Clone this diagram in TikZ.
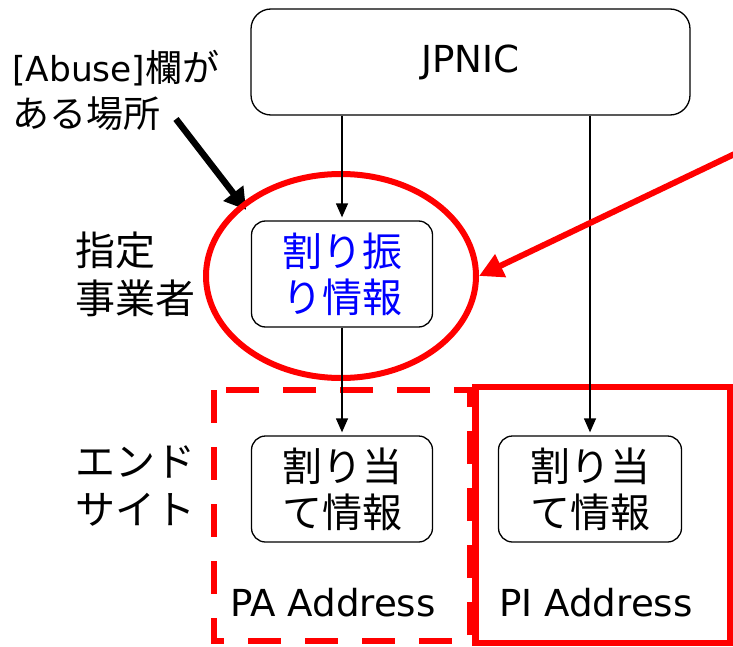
\documentclass[tikz,border=0pt]{standalone}
\usepackage{fontspec}
\setmainfont{DejaVu Sans}[Scale=0.93]
\newfontfamily\jpfont{Noto Sans CJK JP}
\usetikzlibrary{arrows.meta,shapes.geometric}
\pgfdeclarelayer{back}
\pgfsetlayers{back,main}

\tikzset{
	infobox/.style={draw, rounded corners=14pt, line width=1.3pt, minimum width=181pt, minimum height=106pt, align=center, inner sep=0pt, font=\jpfont\fontsize{40}{46}\selectfont},
	flow/.style={line width=1.3pt, -{Triangle[length=14pt,width=12pt]}, shorten >=3pt},
	tag/.style={anchor=west, align=left, inner sep=0pt, font=\fontsize{40}{47}\selectfont},
	redline/.style={draw=red, line width=6pt},
}

\begin{document}
\begin{tikzpicture}[x=1pt, y=-1pt]
		\useasboundingbox (0,0) rectangle (733,647);
		% Frames:
		\draw[redline, dash pattern=on 33pt off 24pt] (214,390) rectangle (470,641);
		\draw[redline, line width=6.5pt] (475.5,387) rectangle (730,643);
		% Nodes:
		\node[infobox, rounded corners=20pt, minimum width=439pt, minimum height=106pt, font=\fontsize{40}{46}\selectfont] (jpnic) at (470.5, 62) {JPNIC};
		\node[infobox, text=blue] (alloc) at (342, 274) {割り振\\り情報};
		\node[infobox] (asgnPA) at (342, 489) {割り当\\て情報};
		\node[infobox, minimum width=183pt] (asgnPI) at (590, 489) {割り当\\て情報};
		\node[tag, font=\fontsize{37}{46}\selectfont] (abuse) at (12, 90) {[Abuse]{\jpfont 欄が}\\{\jpfont ある場所}};
		\node[tag, font=\jpfont\fontsize{40}{48}\selectfont] (lir) at (75, 274) {指定\\事業者};
		\node[tag, font=\jpfont\fontsize{40}{48}\selectfont] (site) at (75, 486) {エンド\\サイト};
		\node[font=\fontsize{40}{46}\selectfont] (paLbl) at (333, 603) {PA Address};
		\node[font=\fontsize{40}{46}\selectfont] (piLbl) at (596, 603) {PI Address};
		\node[redline, ellipse, minimum width=270pt, minimum height=204pt] (mark) at (341, 276) {};
		\coordinate (abuseTail) at (176, 119);
		\coordinate (redTail) at (745, 149);
		% Wires:
		\draw[flow] (jpnic.south -| alloc.north) -- (alloc.north);
		\draw[flow] (jpnic.south -| asgnPI.north) -- (asgnPI.north);
		\draw[flow] (alloc.south) -- (asgnPA.north);
		\begin{pgfonlayer}{back}
			\draw[line width=6.5pt, -{Triangle[length=21pt,width=24pt]}, shorten >=-8pt] (abuseTail) -- (mark.144);
		\end{pgfonlayer}
		\draw[red, line width=6pt, -{Triangle[length=24pt,width=24pt]}] (redTail) -- (mark.east);
	\end{tikzpicture}
\end{document}
